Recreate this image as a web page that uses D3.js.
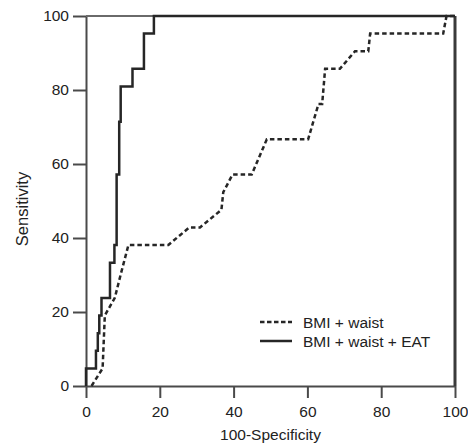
<!DOCTYPE html>
<html>
<head>
<meta charset="utf-8">
<script src="https://cdn.jsdelivr.net/npm/d3@7"></script>
<style>
  body { margin: 0; background: #fff; }
  text { font-family: "Liberation Sans", Arial, sans-serif; fill: #222; }
</style>
</head>
<body>
<script>
// Size of the page and the plot box
var width = 468;
var height = 447;
var margin = {left: 86, right: 13, top: 16, bottom: 61};

// ROC curves (100-specificity, sensitivity)
var waistFpr = [1.5, 4.5, 5.1, 7.8, 9.5, 11.5, 22.3, 28.0, 30.9, 36.7, 37.2, 39.7, 44.9, 49.0, 60.2, 61.6, 63.0, 64.0, 64.8, 68.8, 72.9, 76.5, 77.0, 96.8, 97.7, 100];
var waistTpr = [0, 4.76, 19.05, 23.81, 30.5, 38.1, 38.1, 42.86, 42.86, 47.62, 52.38, 57.14, 57.14, 66.67, 66.67, 71.43, 76.19, 76.19, 85.71, 85.71, 90.48, 90.48, 95.24, 95.24, 100, 100];

var eatFpr = [0, 0, 2.7, 2.7, 3.2, 3.2, 3.6, 3.6, 4.2, 4.2, 6.5, 6.5, 7.7, 7.7, 8.3, 8.3, 9.0, 9.0, 9.4, 9.4, 12.6, 12.6, 15.7, 15.7, 18.4, 18.4, 100];
var eatTpr = [0, 4.76, 4.76, 9.52, 9.52, 14.29, 14.29, 19.05, 19.05, 23.81, 23.81, 33.33, 33.33, 38.1, 38.1, 57.14, 57.14, 71.43, 71.43, 80.95, 80.95, 85.71, 85.71, 95.24, 95.24, 100, 100];

var tickValues = [0, 20, 40, 60, 80, 100];
var seriesNames = ["BMI + waist", "BMI + waist + EAT"];

var svg = d3.select("body").append("svg")
  .attr("width", width)
  .attr("height", height);

var x = d3.scaleLinear().domain([0, 100]).range([margin.left, width - margin.right]);
var y = d3.scaleLinear().domain([0, 100]).range([height - margin.bottom, margin.top]);

// axes
var xAxis = svg.append("g")
  .attr("transform", "translate(0," + y(0) + ")")
  .call(d3.axisBottom(x).tickValues(tickValues).tickSize(12).tickSizeOuter(0).tickPadding(8));

var yAxis = svg.append("g")
  .attr("transform", "translate(" + x(0) + ",0)")
  .call(d3.axisLeft(y).tickValues(tickValues).tickSize(13).tickSizeOuter(0).tickPadding(4));

[xAxis, yAxis].forEach(function (g) {
  g.selectAll("path, line").attr("stroke", "#4a4a4a").attr("stroke-width", 2);
  g.selectAll("text").style("font-size", "15.5px").attr("fill", "#222");
});

// box: top and right border
svg.append("line")
  .attr("x1", x(0)).attr("x2", x(100))
  .attr("y1", y(100)).attr("y2", y(100))
  .attr("stroke", "#6a6a6a").attr("stroke-width", 2);
svg.append("line")
  .attr("x1", x(100)).attr("x2", x(100))
  .attr("y1", y(100)).attr("y2", y(0))
  .attr("stroke", "#3a3a3a").attr("stroke-width", 3);

// curves
var line = d3.line()
  .x(function (d) { return x(d[0]); })
  .y(function (d) { return y(d[1]); });

svg.append("path")
  .datum(d3.zip(waistFpr, waistTpr))
  .attr("d", line)
  .attr("fill", "none")
  .attr("stroke", "#262626")
  .attr("stroke-width", 2.5)
  .attr("stroke-dasharray", "4.5,3");

svg.append("path")
  .datum(d3.zip(eatFpr, eatTpr))
  .attr("d", line)
  .attr("fill", "none")
  .attr("stroke", "#262626")
  .attr("stroke-width", 2.5);

// axis titles
svg.append("text")
  .attr("x", (x(0) + x(100)) / 2)
  .attr("y", 440)
  .attr("text-anchor", "middle")
  .style("font-size", "15.5px")
  .text("100-Specificity");

svg.append("text")
  .attr("transform", "translate(28,209) rotate(-90)")
  .attr("text-anchor", "middle")
  .style("font-size", "16.5px")
  .text("Sensitivity");

// legend
var legend = svg.append("g");
seriesNames.forEach(function (name, i) {
  var ly = 322 + i * 19;
  legend.append("line")
    .attr("x1", 260).attr("x2", 292)
    .attr("y1", ly).attr("y2", ly)
    .attr("stroke", "#262626")
    .attr("stroke-width", 2.5)
    .attr("stroke-dasharray", i === 0 ? "4.5,2.5" : null);
  legend.append("text")
    .attr("x", 303)
    .attr("y", ly + 5.5)
    .style("font-size", "15.5px")
    .text(name);
});
</script>
</body>
</html>
